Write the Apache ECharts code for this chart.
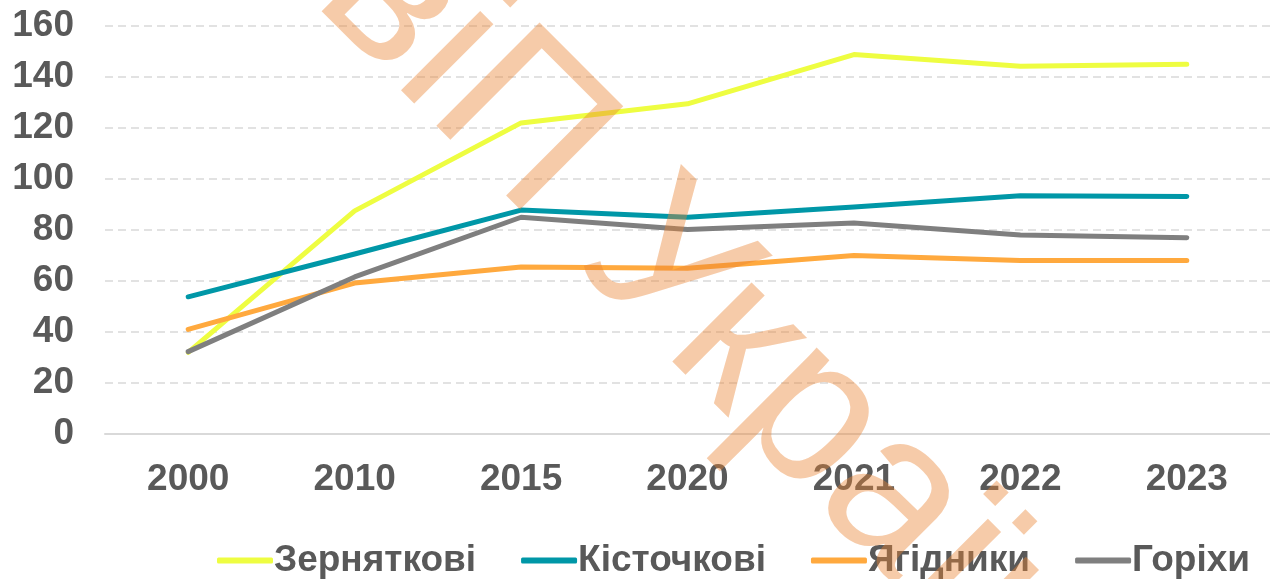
<!DOCTYPE html>
<html>
<head>
<meta charset="utf-8">
<script src="https://cdn.jsdelivr.net/npm/echarts@6/dist/echarts.min.js"></script>
<style>
  html, body { margin: 0; padding: 0; background: #fff; }
  #chart { width: 1270px; height: 579px; }
</style>
</head>
<body>
<div id="chart"></div>
<script>
var years = ['2000', '2010', '2015', '2020', '2021', '2022', '2023'];
var seriesNames = ['Зерняткові', 'Кісточкові', 'Ягідники', 'Горіхи'];
var pome = [32, 87.5, 122, 129.5, 148.8, 144.2, 145];
var stone = [53.8, 70.6, 87.8, 85, 89, 93.4, 93.1];
var berries = [41, 59.2, 65.5, 65, 70, 68, 68];
var nuts = [32.3, 61.6, 85, 80.2, 82.7, 78, 77];
var colors = ['#EEFD41', '#0097A7', '#FFA93E', '#7F7F7F'];
var watermark = 'віП Україна';

var labelFont = {
    fontFamily: '"Liberation Sans", Arial, sans-serif',
    fontWeight: 'bold',
    fontSize: 37,
    color: '#595959'
};

function makeLine(name, data, color) {
    return {
        name: name,
        type: 'line',
        data: data,
        symbol: 'none',
        showSymbol: false,
        color: color,
        lineStyle: { width: 5, color: color, cap: 'round', join: 'round' }
    };
}

var chart = echarts.init(document.getElementById('chart'));
option = {
    animation: false,
    grid: { left: 105, right: 0, top: 26, bottom: 145 },
    legend: {
        left: 212,
        top: 537,
        icon: 'roundRect',
        itemWidth: 56,
        itemHeight: 6,
        itemGap: 45,
        data: seriesNames,
        textStyle: {
            fontFamily: labelFont.fontFamily,
            fontWeight: 'bold',
            fontSize: 37,
            color: '#595959',
            padding: [0, 0, 0, -4]
        }
    },
    xAxis: {
        type: 'category',
        data: years,
        boundaryGap: true,
        axisTick: { show: false },
        axisLine: { lineStyle: { color: '#D9D9D9', width: 2 } },
        axisLabel: Object.assign({ margin: 27 }, labelFont)
    },
    yAxis: {
        type: 'value',
        min: 0,
        max: 160,
        interval: 20,
        axisLine: { show: false },
        axisTick: { show: false },
        axisLabel: Object.assign({ margin: 31 }, labelFont),
        splitLine: { lineStyle: { color: '#D9D9D9', width: 1.5, type: [8, 5] } }
    },
    graphic: [{
        type: 'text',
        x: 306,
        y: 6,
        rotation: -Math.PI / 4,
        z: 100,
        silent: true,
        style: {
            text: watermark,
            x: 0,
            y: -66,
            font: '212px "Liberation Sans", Arial, sans-serif',
            fill: 'rgba(234,130,50,0.42)',
            align: 'left',
            verticalAlign: 'middle'
        }
    }],
    series: [
        makeLine(seriesNames[0], pome, colors[0]),
        makeLine(seriesNames[1], stone, colors[1]),
        makeLine(seriesNames[2], berries, colors[2]),
        makeLine(seriesNames[3], nuts, colors[3])
    ]
};
chart.setOption(option);
</script>
</body>
</html>
